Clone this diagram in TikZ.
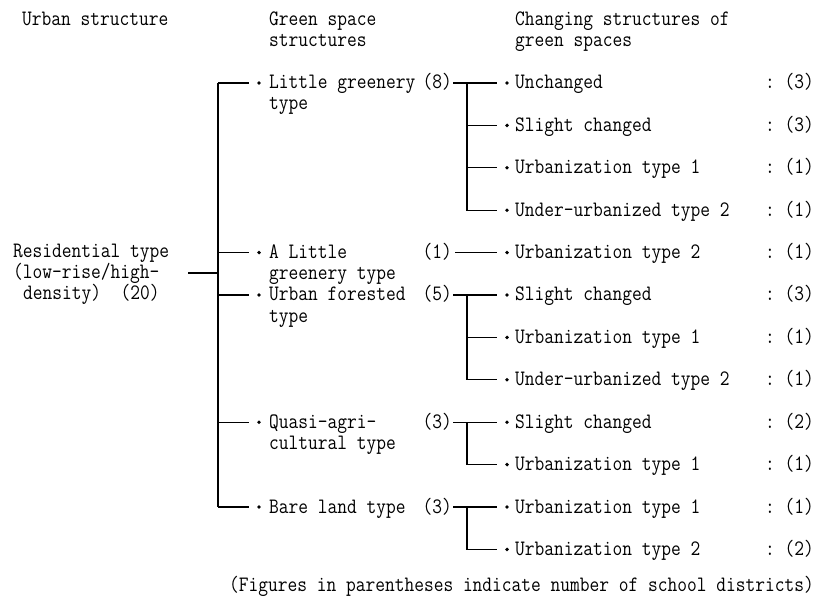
\documentclass[tikz,border=0pt]{standalone}
\usepackage{fontspec}
\setmonofont[FakeStretch=0.86]{Latin Modern Mono}
\begin{document}
\begin{tikzpicture}[x=1pt,y=-1pt,
  lbl/.style={anchor=base west,yshift=-6pt,inner sep=0pt,font=\fontsize{22pt}{20pt}\selectfont\ttfamily},
  cnt/.style={anchor=base east,yshift=-6pt,inner sep=0pt,font=\fontsize{22pt}{20pt}\selectfont\ttfamily},
  dot/.style={circle,fill=black,inner sep=0pt,minimum size=3.8pt},
  conn/.style={line width=1.1pt,black}]
\useasboundingbox[fill=white] (0,0) rectangle (817,604);
% headers
\node[lbl] (h1) at (22,20) {Urban structure};
\node[lbl] (h2a) at (269,20) {Green space};
\node[lbl] (h2b) at (269,41) {structures};
\node[lbl] (h3a) at (515,20) {Changing structures of};
\node[lbl] (h3b) at (515,41) {green spaces};
% urban structure
\node[lbl] (r1) at (13,252) {Residential type};
\node[lbl] (r2) at (13,273) {(low-rise/high-};
\node[lbl] (r3) at (23,294) {density)~~(20)};
\coordinate (rj) at (188,273);
\coordinate (mj) at (218,273);
% level 2
\coordinate (m1) at (218,83);
\coordinate (m5) at (218,252.6);
\coordinate (m6) at (218,295);
\coordinate (m9) at (218,422.2);
\coordinate (m11) at (218,507);
\node[dot] (g1) at (259,83) {};
\node[dot] (g5) at (259,252.6) {};
\node[dot] (g6) at (259,295) {};
\node[dot] (g9) at (259,422.2) {};
\node[dot] (g11) at (259,507) {};
\node[lbl] (s1) at (269,83) {Little greenery};
\node[lbl] (s1b) at (269,104) {type};
\node[lbl] (s5) at (269,252.6) {A Little};
\node[lbl] (s5b) at (269,273.6) {greenery type};
\node[lbl] (s6) at (269,295) {Urban forested};
\node[lbl] (s6b) at (269,316) {type};
\node[lbl] (s9) at (269,422.2) {Quasi-agri-};
\node[lbl] (s9b) at (269,443.2) {cultural type};
\node[lbl] (s11) at (269,507) {Bare land type};
\node[cnt] (n1) at (452,83) {(8)};
\node[cnt] (n5) at (452,252.6) {(1)};
\node[cnt] (n6) at (452,295) {(5)};
\node[cnt] (n9) at (452,422.2) {(3)};
\node[cnt] (n11) at (452,507) {(3)};
% level 3
\foreach \i/\y/\t/\c in {1/83/Unchanged/3, 2/125.4/Slight changed/3, 3/167.8/Urbanization type 1/1,
  4/210.2/Under-urbanized type 2/1, 5/252.6/Urbanization type 2/1, 6/295/Slight changed/3,
  7/337.4/Urbanization type 1/1, 8/379.8/Under-urbanized type 2/1, 9/422.2/Slight changed/2,
  10/464.6/Urbanization type 1/1, 11/507/Urbanization type 1/1, 12/549.4/Urbanization type 2/2}{
  \node[dot] (d\i) at (507,\y) {};
  \node[lbl] (t\i) at (515,\y) {\t};
  \node[cnt] (k\i) at (814,\y) {:~(\c)};
  \coordinate (e\i) at (497,\y);
}
\coordinate (j1) at (467,83);
\coordinate (j6) at (467,295);
\coordinate (j9) at (467,422.2);
\coordinate (j11) at (467,507);
% connectors
\draw[conn] (rj) -- (mj);
\draw[conn] (m1) -- (m11);
\draw[conn] (m1) -- ([xshift=-10pt]g1.center);
\draw[conn] (m5) -- ([xshift=-10pt]g5.center);
\draw[conn] (m6) -- ([xshift=-10pt]g6.center);
\draw[conn] (m9) -- ([xshift=-10pt]g9.center);
\draw[conn] (m11) -- ([xshift=-10pt]g11.center);
\draw[conn] ([xshift=1pt]n1.east |- e1) -- (e1);
\draw[conn] (j1) |- (e4);
\draw[conn] (j1 |- e2) -- (e2);
\draw[conn] (j1 |- e3) -- (e3);
\draw[conn] ([xshift=3pt]n5.east |- e5) -- (e5);
\draw[conn] ([xshift=1pt]n6.east |- e6) -- (e6);
\draw[conn] (j6) |- (e8);
\draw[conn] (j6 |- e7) -- (e7);
\draw[conn] ([xshift=1pt]n9.east |- e9) -- (e9);
\draw[conn] (j9) |- (e10);
\draw[conn] ([xshift=1pt]n11.east |- e11) -- (e11);
\draw[conn] (j11) |- (e12);
% footer
\node[cnt] (f) at (814,585) {(Figures in parentheses indicate number of school districts)};
\end{tikzpicture}
\end{document}
